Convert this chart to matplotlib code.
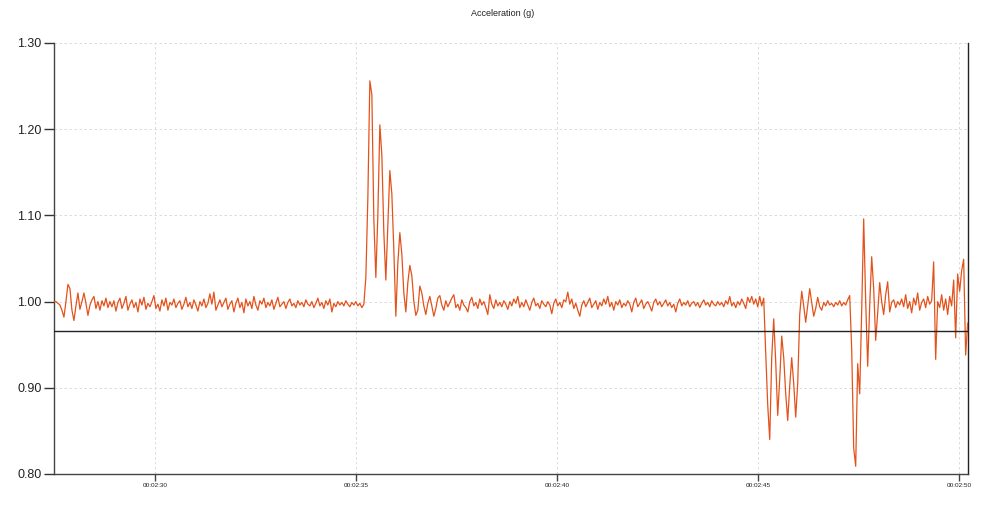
import numpy as np
import matplotlib
matplotlib.use("Agg")
import matplotlib.pyplot as plt
from matplotlib.ticker import FixedLocator, FuncFormatter

plt.rcParams['font.family'] = ['Liberation Sans', 'DejaVu Sans']

# ---------------- data ----------------
# acceleration samples, in thousandths of g
t_start = 147.475      # seconds (00:02:27.475)
sample_dt = 0.04975    # seconds between samples

acc_start = [1000, 1000, 998, 996, 990, 982, 1000, 1020, 1015, 990,
             978, 995, 1010, 991, 1000, 1010, 998, 984, 996, 1002,
             1006, 992, 1000, 990, 1001, 995, 1004, 993, 1000]

acc_quiet1 = [994, 1001, 989, 999, 1004, 992, 998, 1006, 990, 997,
              1002, 993, 999, 988, 1003, 996, 1005, 991, 998, 994,
              1000, 1007, 992, 997, 989, 1002, 995, 1004, 990, 999,
              996, 1003, 993, 998, 1001, 991, 997, 1005, 994, 999,
              992, 1002, 996, 989, 1000, 995, 1003, 993, 998, 1009,
              997, 1011, 990, 996, 1002, 994, 999, 1004, 991, 997,
              1001, 988, 998, 1004, 993, 999, 987, 1003, 995, 1000,
              992, 1006, 996, 990, 1001, 997, 1004, 993, 999, 995,
              1002, 991, 998, 1005, 994, 997, 1000, 992, 999, 1003,
              995, 998, 993, 1001, 996, 999, 994, 1002, 997, 995,
              1000, 993, 998, 1004, 995, 999, 992, 1001, 996, 1003,
              988, 998, 994, 1000, 996, 999, 995, 1001, 997, 994,
              999, 996, 1000, 995, 998, 993, 997]

acc_burst1 = [1028, 1120, 1256, 1240, 1095, 1028, 1100, 1205, 1170, 1080,
              1025, 1090, 1152, 1125, 1060, 983, 1045, 1080, 1055, 1010,
              988, 1022, 1042, 1030, 1000, 984, 990, 1018, 1010, 995]

acc_quiet2 = [985, 998, 1006, 995, 983, 992, 1004, 1007, 996, 990,
              1001, 994, 999, 1004, 1008, 993, 997, 990, 1002, 996,
              993, 988, 1000, 1005, 995, 999, 992, 1003, 996, 1000,
              993, 985, 1008, 997, 992, 1002, 995, 999, 994, 1001,
              997, 991, 1000, 995, 1003, 998, 1006, 993, 999, 994,
              1002, 996, 990, 999, 1004, 995, 998, 992, 1001, 997,
              994, 1000, 996, 986, 998, 1003, 995, 999, 993, 1002,
              1000, 1011, 997, 1003, 992, 998, 990, 983, 996, 1001,
              994, 999, 1004, 993, 997, 1001, 991, 999, 995, 1003,
              997, 1006, 994, 999, 990, 1000, 996, 1002, 993, 998,
              995, 1001, 997, 988, 999, 1004, 994, 998, 1002, 992,
              997, 1000, 995, 989, 999, 1003, 996, 1000, 994, 998,
              1002, 995, 999, 993, 997, 988, 998, 1003, 995, 999,
              996, 1001, 994, 998, 1000, 995, 999, 993, 998, 1002,
              996, 999, 994, 1001, 997, 995, 1000, 996, 999, 994,
              1001, 997, 1006, 995, 999, 993, 1000, 996, 1003, 998,
              992, 1005, 999, 1006]

acc_burst2 = [997, 1003, 994, 1006, 995, 1004, 940, 880, 840, 935,
              980, 930, 868, 910, 960, 935, 893, 862, 902, 935,
              905, 866, 905, 985, 1012, 995, 976, 995, 1015, 999,
              983, 992, 1005, 994, 990, 999, 995, 1001, 996, 998,
              994, 999, 996, 1001, 995, 999, 996, 1002, 1007]

acc_burst3 = [945, 830, 809, 928, 893, 990, 1096, 1000, 925, 995,
              1052, 1015, 955, 987, 1022, 1000, 985, 1008, 1023, 988,
              999, 1002, 993, 1000]

acc_end = [996, 1003, 994, 1008, 992, 1000, 987, 1004, 996, 1010,
           990, 999, 1003, 993, 1006, 997, 1001, 1046, 933, 1000,
           993, 1008, 990, 1003, 985, 1006, 995, 1025, 958, 1032,
           1012, 1036, 1049, 938, 975]

threshold_g = 0.966

y_ticks = [0.80, 0.90, 1.00, 1.10, 1.20, 1.30]
x_ticks = [150, 155, 160, 165, 170]   # seconds

acc_mg = acc_start + acc_quiet1 + acc_burst1 + acc_quiet2 + acc_burst2 + acc_burst3 + acc_end
acc_g = np.array(acc_mg) / 1000.0
t_sec = t_start + sample_dt * np.arange(len(acc_g))


def hms(v, pos=None):
    s = int(round(v))
    return f"{s // 3600:02d}:{(s % 3600) // 60:02d}:{s % 60:02d}"


# ---------------- figure ----------------
fig = plt.figure(figsize=(9.99, 5.05), dpi=100)
ax = fig.add_axes([0.054, 0.0614, 0.915, 0.8535])

ax.plot(t_sec, acc_g, color='#e4521b', lw=0.9, zorder=3)
ax.axhline(threshold_g, color='#222222', lw=1.0, zorder=4)

ax.set_xlim(t_start, 170.22)
ax.set_ylim(0.80, 1.30)

ax.yaxis.set_major_locator(FixedLocator(y_ticks))
ax.yaxis.set_major_formatter(FuncFormatter(lambda v, p: f"{v:.2f}"))
ax.xaxis.set_major_locator(FixedLocator(x_ticks))
ax.xaxis.set_major_formatter(FuncFormatter(hms))

ax.grid(True, color='#d6d6d6', lw=0.6, linestyle=(0, (3, 3)), zorder=0)

for side in ['left', 'bottom']:
    ax.spines[side].set_color('#444444')
    ax.spines[side].set_linewidth(1.0)
ax.spines['right'].set_color('#222222')
ax.spines['right'].set_linewidth(1.0)
ax.spines['top'].set_visible(False)

ax.tick_params(axis='y', length=7, width=1, color='#333333', labelsize=9,
               labelcolor='#222222', pad=2)
ax.tick_params(axis='x', length=5, width=1, color='#444444', labelsize=4.6,
               labelcolor='#222222', pad=1.5)

fig.text(0.503, 0.974, "Acceleration (g)", ha='center', va='center',
         fontsize=6.5, color='#222222')

fig.savefig("out.png", dpi=100)
